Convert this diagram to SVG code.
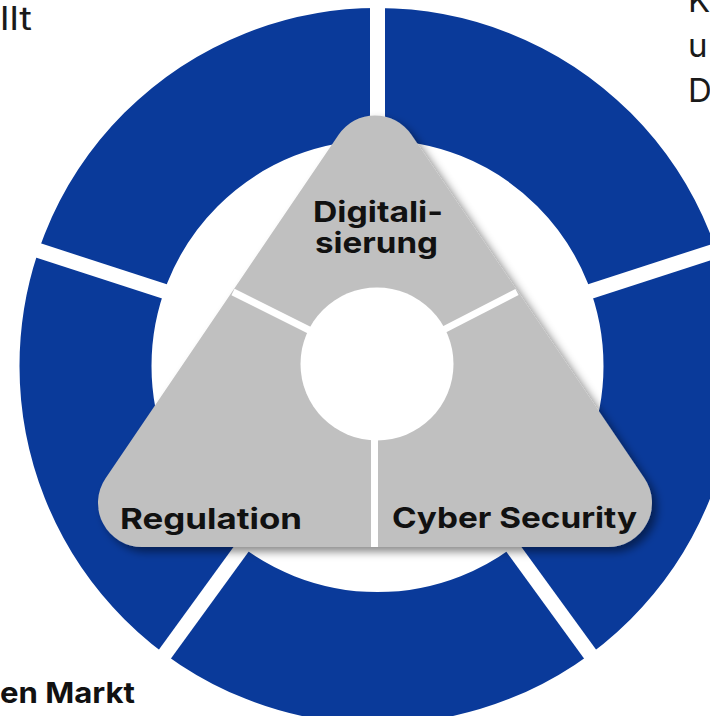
<svg xmlns="http://www.w3.org/2000/svg" width="710" height="716" viewBox="0 0 710 716">
<defs>
<style>
.gap{stroke:#ffffff;stroke-width:15;fill:none}
.div{stroke:#ffffff;stroke-width:7;fill:none}
.lbl{font-family:Inter,"Liberation Sans",sans-serif;font-weight:700;font-size:29px;fill:#111111}
.side{font-family:Inter,"Liberation Sans",sans-serif;font-weight:400;font-size:33px;fill:#1a1a1a}
</style>
<filter id="sh" x="-10%" y="-10%" width="125%" height="125%">
<feDropShadow dx="5" dy="5" stdDeviation="4" flood-color="#000000" flood-opacity="0.45"/>
</filter>
</defs>
<rect width="710" height="716" fill="#ffffff"/>
<g id="ring">
<circle cx="377.5" cy="366" r="292" fill="none" stroke="#0a3a9a" stroke-width="132"/>
</g>
<g id="connectors">
<line class="gap" x1="377.5" y1="-5" x2="377.5" y2="200"/>
<line class="gap" x1="0" y1="238" x2="250" y2="319.2"/>
<line class="gap" x1="720" y1="249.3" x2="500" y2="320.8"/>
<line class="gap" x1="154.7" y1="668.2" x2="284.1" y2="490.2"/>
<line class="gap" x1="600.3" y1="668.2" x2="470.9" y2="490.2"/>
</g>
<g id="triangle">
<path d="M338.6,134.7 A44,44 0 0 1 411.4,134.7 L644.4,478.3 A44,44 0 0 1 608,547 L142,547 A44,44 0 0 1 105.6,478.3 Z" fill="#c0c0c0" filter="url(#sh)"/>
<line class="div" x1="233" y1="292" x2="377" y2="364"/>
<line class="div" x1="517" y1="292" x2="377" y2="364"/>
<line class="div" x1="374.5" y1="364" x2="374.5" y2="547"/>
<circle cx="377" cy="364" r="76.5" fill="#ffffff"/>
</g>
<g id="digitalisierung">
<text class="lbl" x="313" y="222" textLength="130" lengthAdjust="spacingAndGlyphs">Digitali-</text>
<text class="lbl" x="315" y="253" textLength="123" lengthAdjust="spacingAndGlyphs">sierung</text>
</g>
<g id="regulation">
<text class="lbl" x="120" y="529" textLength="182" lengthAdjust="spacingAndGlyphs">Regulation</text>
</g>
<g id="cybersecurity">
<text class="lbl" x="392" y="528" textLength="245" lengthAdjust="spacingAndGlyphs">Cyber Security</text>
</g>
<g id="side-texts">
<text class="side" x="0" y="30" textLength="32" lengthAdjust="spacingAndGlyphs">llt</text>
<text class="side" x="688" y="12">K</text>
<text class="side" x="688" y="57">u</text>
<text class="side" x="688" y="102">D</text>
<text class="lbl" x="0" y="703" textLength="135" lengthAdjust="spacingAndGlyphs">en Markt</text>
</g>
</svg>
